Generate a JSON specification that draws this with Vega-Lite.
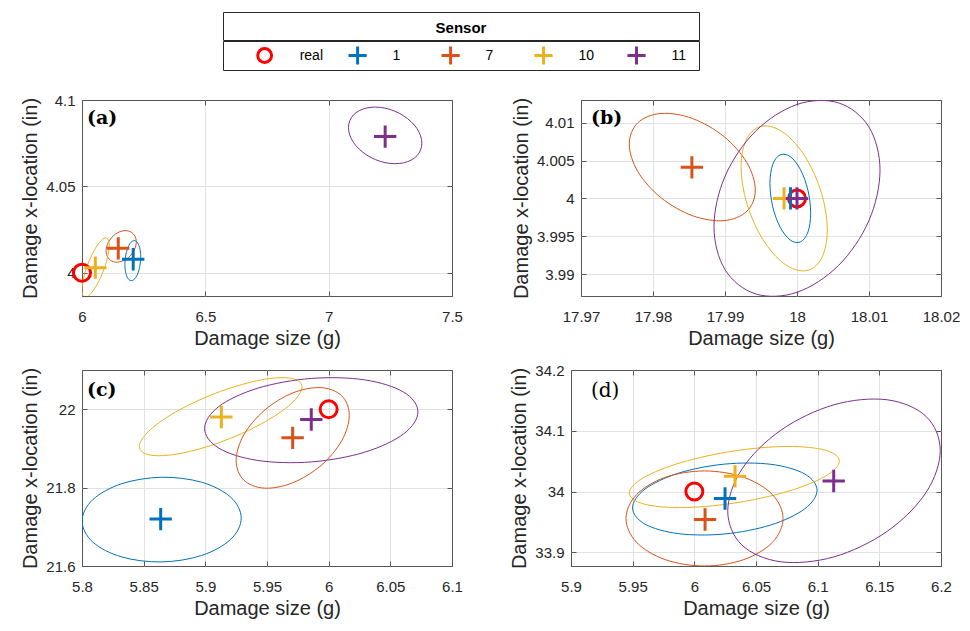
{
"$schema": "https://vega.github.io/schema/vega-lite/v6.json",
"background": "white",
"padding": {"left": 20, "top": 11, "right": 5, "bottom": 5},
"datasets": {
"leg": [{"sensor":"real"},{"sensor":"1"},{"sensor":"7"},{"sensor":"10"},{"sensor":"11"}],
"legtitle": [{"t":"Sensor"}],
"pts": [
{"panel":"a","sensor":"real","x":6,"y":4},
{"panel":"a","sensor":"1","x":6.2076,"y":4.0078},
{"panel":"a","sensor":"7","x":6.147,"y":4.0141},
{"panel":"a","sensor":"10","x":6.054,"y":4.0029},
{"panel":"a","sensor":"11","x":7.229,"y":4.0788},
{"panel":"b","sensor":"real","x":18,"y":4},
{"panel":"b","sensor":"1","x":17.9991,"y":4},
{"panel":"b","sensor":"7","x":17.9854,"y":4.0041},
{"panel":"b","sensor":"10","x":17.9982,"y":4},
{"panel":"b","sensor":"11","x":18,"y":4},
{"panel":"c","sensor":"real","x":6,"y":22},
{"panel":"c","sensor":"1","x":5.8638,"y":21.7197},
{"panel":"c","sensor":"7","x":5.9708,"y":21.927},
{"panel":"c","sensor":"10","x":5.913,"y":21.98},
{"panel":"c","sensor":"11","x":5.9859,"y":21.9738},
{"panel":"d","sensor":"real","x":6,"y":34},
{"panel":"d","sensor":"1","x":6.0249,"y":33.9885},
{"panel":"d","sensor":"7","x":6.0087,"y":33.954},
{"panel":"d","sensor":"10","x":6.033,"y":34.025},
{"panel":"d","sensor":"11","x":6.113,"y":34.0174}
],
"ell": [
{"panel":"a","sensor":"11","i":0,"x":7.3778,"y":4.0750},
{"panel":"a","sensor":"11","i":1,"x":7.3579,"y":4.0835},
{"panel":"a","sensor":"11","i":2,"x":7.3034,"y":4.0909},
{"panel":"a","sensor":"11","i":3,"x":7.229,"y":4.0953},
{"panel":"a","sensor":"11","i":4,"x":7.1546,"y":4.0954},
{"panel":"a","sensor":"11","i":5,"x":7.1001,"y":4.0913},
{"panel":"a","sensor":"11","i":6,"x":7.0802,"y":4.0840},
{"panel":"a","sensor":"11","i":7,"x":7.1001,"y":4.0755},
{"panel":"a","sensor":"11","i":8,"x":7.1546,"y":4.0681},
{"panel":"a","sensor":"11","i":9,"x":7.229,"y":4.0637},
{"panel":"a","sensor":"11","i":10,"x":7.3034,"y":4.0636},
{"panel":"a","sensor":"11","i":11,"x":7.3579,"y":4.0677},
{"panel":"a","sensor":"7","i":0,"x":6.2201,"y":4.0178},
{"panel":"a","sensor":"7","i":1,"x":6.2119,"y":4.0218},
{"panel":"a","sensor":"7","i":2,"x":6.1895,"y":4.0241},
{"panel":"a","sensor":"7","i":3,"x":6.1589,"y":4.0240},
{"panel":"a","sensor":"7","i":4,"x":6.1283,"y":4.0215},
{"panel":"a","sensor":"7","i":5,"x":6.1059,"y":4.0173},
{"panel":"a","sensor":"7","i":6,"x":6.0977,"y":4.0126},
{"panel":"a","sensor":"7","i":7,"x":6.1059,"y":4.0086},
{"panel":"a","sensor":"7","i":8,"x":6.1283,"y":4.0063},
{"panel":"a","sensor":"7","i":9,"x":6.1589,"y":4.0065},
{"panel":"a","sensor":"7","i":10,"x":6.1895,"y":4.0089},
{"panel":"a","sensor":"7","i":11,"x":6.2119,"y":4.0131},
{"panel":"a","sensor":"1","i":0,"x":6.238,"y":4.0091},
{"panel":"a","sensor":"1","i":1,"x":6.2337,"y":4.0145},
{"panel":"a","sensor":"1","i":2,"x":6.222,"y":4.0179},
{"panel":"a","sensor":"1","i":3,"x":6.206,"y":4.0184},
{"panel":"a","sensor":"1","i":4,"x":6.19,"y":4.0158},
{"panel":"a","sensor":"1","i":5,"x":6.1783,"y":4.0108},
{"panel":"a","sensor":"1","i":6,"x":6.174,"y":4.0048},
{"panel":"a","sensor":"1","i":7,"x":6.1783,"y":3.9994},
{"panel":"a","sensor":"1","i":8,"x":6.19,"y":3.9960},
{"panel":"a","sensor":"1","i":9,"x":6.206,"y":3.9956},
{"panel":"a","sensor":"1","i":10,"x":6.222,"y":3.9982},
{"panel":"a","sensor":"1","i":11,"x":6.2337,"y":4.0031},
{"panel":"a","sensor":"10","i":0,"x":6.1106,"y":4.0160},
{"panel":"a","sensor":"10","i":1,"x":6.1032,"y":4.0199},
{"panel":"a","sensor":"10","i":2,"x":6.0829,"y":4.0193},
{"panel":"a","sensor":"10","i":3,"x":6.0551,"y":4.0143},
{"panel":"a","sensor":"10","i":4,"x":6.0273,"y":4.0063},
{"panel":"a","sensor":"10","i":5,"x":6.0070,"y":3.9974},
{"panel":"a","sensor":"10","i":6,"x":5.9996,"y":3.9900},
{"panel":"a","sensor":"10","i":7,"x":6.0070,"y":3.9861},
{"panel":"a","sensor":"10","i":8,"x":6.0273,"y":3.9867},
{"panel":"a","sensor":"10","i":9,"x":6.0551,"y":3.9917},
{"panel":"a","sensor":"10","i":10,"x":6.0829,"y":3.9997},
{"panel":"a","sensor":"10","i":11,"x":6.1032,"y":4.0086},
{"panel":"b","sensor":"7","i":0,"x":17.99421,"y":4.0011},
{"panel":"b","sensor":"7","i":1,"x":17.99304,"y":4.00472},
{"panel":"b","sensor":"7","i":2,"x":17.98984,"y":4.00818},
{"panel":"b","sensor":"7","i":3,"x":17.98546,"y":4.01056},
{"panel":"b","sensor":"7","i":4,"x":17.98109,"y":4.01122},
{"panel":"b","sensor":"7","i":5,"x":17.97788,"y":4.00998},
{"panel":"b","sensor":"7","i":6,"x":17.97671,"y":4.00718},
{"panel":"b","sensor":"7","i":7,"x":17.97788,"y":4.00356},
{"panel":"b","sensor":"7","i":8,"x":17.98109,"y":4.0001},
{"panel":"b","sensor":"7","i":9,"x":17.98546,"y":3.99772},
{"panel":"b","sensor":"7","i":10,"x":17.98984,"y":3.99706},
{"panel":"b","sensor":"7","i":11,"x":17.99304,"y":3.9983},
{"panel":"b","sensor":"1","i":0,"x":18.0019,"y":3.99804},
{"panel":"b","sensor":"1","i":1,"x":18.00152,"y":4.00106},
{"panel":"b","sensor":"1","i":2,"x":18.00049,"y":4.00379},
{"panel":"b","sensor":"1","i":3,"x":17.99907,"y":4.00551},
{"panel":"b","sensor":"1","i":4,"x":17.99765,"y":4.00575},
{"panel":"b","sensor":"1","i":5,"x":17.99662,"y":4.00445},
{"panel":"b","sensor":"1","i":6,"x":17.99624,"y":4.00196},
{"panel":"b","sensor":"1","i":7,"x":17.99662,"y":3.99894},
{"panel":"b","sensor":"1","i":8,"x":17.99765,"y":3.99621},
{"panel":"b","sensor":"1","i":9,"x":17.99907,"y":3.99449},
{"panel":"b","sensor":"1","i":10,"x":18.00049,"y":3.99425},
{"panel":"b","sensor":"1","i":11,"x":18.00152,"y":3.99555},
{"panel":"b","sensor":"10","i":0,"x":18.00421,"y":3.99583},
{"panel":"b","sensor":"10","i":1,"x":18.0034,"y":4.00071},
{"panel":"b","sensor":"10","i":2,"x":18.00121,"y":4.0054},
{"panel":"b","sensor":"10","i":3,"x":17.99822,"y":4.00864},
{"panel":"b","sensor":"10","i":4,"x":17.99523,"y":4.00956},
{"panel":"b","sensor":"10","i":5,"x":17.99304,"y":4.00793},
{"panel":"b","sensor":"10","i":6,"x":17.99223,"y":4.00417},
{"panel":"b","sensor":"10","i":7,"x":17.99304,"y":3.99929},
{"panel":"b","sensor":"10","i":8,"x":17.99523,"y":3.9946},
{"panel":"b","sensor":"10","i":9,"x":17.99822,"y":3.99136},
{"panel":"b","sensor":"10","i":10,"x":18.00121,"y":3.99044},
{"panel":"b","sensor":"10","i":11,"x":18.0034,"y":3.99207},
{"panel":"b","sensor":"11","i":0,"x":18.01153,"y":4.00374},
{"panel":"b","sensor":"11","i":1,"x":18.00998,"y":4.00945},
{"panel":"b","sensor":"11","i":2,"x":18.00576,"y":4.01262},
{"panel":"b","sensor":"11","i":3,"x":18.0,"y":4.01241},
{"panel":"b","sensor":"11","i":4,"x":17.99424,"y":4.00887},
{"panel":"b","sensor":"11","i":5,"x":17.99002,"y":4.00296},
{"panel":"b","sensor":"11","i":6,"x":17.98847,"y":3.99626},
{"panel":"b","sensor":"11","i":7,"x":17.99002,"y":3.99056},
{"panel":"b","sensor":"11","i":8,"x":17.99424,"y":3.98738},
{"panel":"b","sensor":"11","i":9,"x":18.0,"y":3.98759},
{"panel":"b","sensor":"11","i":10,"x":18.00576,"y":3.99113},
{"panel":"b","sensor":"11","i":11,"x":18.00998,"y":3.99704},
{"panel":"c","sensor":"1","i":0,"x":5.9291,"y":21.7222},
{"panel":"c","sensor":"1","i":1,"x":5.9205,"y":21.7757},
{"panel":"c","sensor":"1","i":2,"x":5.8969,"y":21.8138},
{"panel":"c","sensor":"1","i":3,"x":5.8646,"y":21.8264},
{"panel":"c","sensor":"1","i":4,"x":5.8323,"y":21.81},
{"panel":"c","sensor":"1","i":5,"x":5.8087,"y":21.7691},
{"panel":"c","sensor":"1","i":6,"x":5.8001,"y":21.7146},
{"panel":"c","sensor":"1","i":7,"x":5.8087,"y":21.6611},
{"panel":"c","sensor":"1","i":8,"x":5.8323,"y":21.623},
{"panel":"c","sensor":"1","i":9,"x":5.8646,"y":21.6104},
{"panel":"c","sensor":"1","i":10,"x":5.8969,"y":21.6268},
{"panel":"c","sensor":"1","i":11,"x":5.9205,"y":21.6677},
{"panel":"c","sensor":"10","i":0,"x":5.9784,"y":22.0566},
{"panel":"c","sensor":"10","i":1,"x":5.9696,"y":22.0789},
{"panel":"c","sensor":"10","i":2,"x":5.9454,"y":22.0749},
{"panel":"c","sensor":"10","i":3,"x":5.9125,"y":22.0457},
{"panel":"c","sensor":"10","i":4,"x":5.8795,"y":21.9992},
{"panel":"c","sensor":"10","i":5,"x":5.8554,"y":21.9477},
{"panel":"c","sensor":"10","i":6,"x":5.8465,"y":21.9052},
{"panel":"c","sensor":"10","i":7,"x":5.8554,"y":21.8829},
{"panel":"c","sensor":"10","i":8,"x":5.8795,"y":21.8869},
{"panel":"c","sensor":"10","i":9,"x":5.9125,"y":21.9161},
{"panel":"c","sensor":"10","i":10,"x":5.9454,"y":21.9627},
{"panel":"c","sensor":"10","i":11,"x":5.9696,"y":22.0141},
{"panel":"c","sensor":"11","i":0,"x":6.0724,"y":21.9931},
{"panel":"c","sensor":"11","i":1,"x":6.0608,"y":22.0436},
{"panel":"c","sensor":"11","i":2,"x":6.0292,"y":22.0748},
{"panel":"c","sensor":"11","i":3,"x":5.9859,"y":22.0785},
{"panel":"c","sensor":"11","i":4,"x":5.9426,"y":22.0537},
{"panel":"c","sensor":"11","i":5,"x":5.911,"y":22.007},
{"panel":"c","sensor":"11","i":6,"x":5.8994,"y":21.9509},
{"panel":"c","sensor":"11","i":7,"x":5.911,"y":21.9005},
{"panel":"c","sensor":"11","i":8,"x":5.9426,"y":21.8692},
{"panel":"c","sensor":"11","i":9,"x":5.9859,"y":21.8655},
{"panel":"c","sensor":"11","i":10,"x":6.0292,"y":21.8903},
{"panel":"c","sensor":"11","i":11,"x":6.0608,"y":21.9371},
{"panel":"c","sensor":"7","i":0,"x":6.0167,"y":21.9847},
{"panel":"c","sensor":"7","i":1,"x":6.0106,"y":22.0342},
{"panel":"c","sensor":"7","i":2,"x":5.9938,"y":22.055},
{"panel":"c","sensor":"7","i":3,"x":5.9708,"y":22.0414},
{"panel":"c","sensor":"7","i":4,"x":5.9479,"y":21.9971},
{"panel":"c","sensor":"7","i":5,"x":5.9311,"y":21.934},
{"panel":"c","sensor":"7","i":6,"x":5.925,"y":21.8689},
{"panel":"c","sensor":"7","i":7,"x":5.9311,"y":21.8194},
{"panel":"c","sensor":"7","i":8,"x":5.9479,"y":21.7986},
{"panel":"c","sensor":"7","i":9,"x":5.9708,"y":21.8122},
{"panel":"c","sensor":"7","i":10,"x":5.9938,"y":21.8565},
{"panel":"c","sensor":"7","i":11,"x":6.0106,"y":21.9196},
{"panel":"d","sensor":"1","i":0,"x":6.0995,"y":34.0021},
{"panel":"d","sensor":"1","i":1,"x":6.0894,"y":34.029},
{"panel":"d","sensor":"1","i":2,"x":6.0621,"y":34.0448},
{"panel":"d","sensor":"1","i":3,"x":6.0247,"y":34.0452},
{"panel":"d","sensor":"1","i":4,"x":5.9873,"y":34.0303},
{"panel":"d","sensor":"1","i":5,"x":5.96,"y":34.004},
{"panel":"d","sensor":"1","i":6,"x":5.9499,"y":33.9733},
{"panel":"d","sensor":"1","i":7,"x":5.96,"y":33.9464},
{"panel":"d","sensor":"1","i":8,"x":5.9873,"y":33.9307},
{"panel":"d","sensor":"1","i":9,"x":6.0247,"y":33.9302},
{"panel":"d","sensor":"1","i":10,"x":6.0621,"y":33.9451},
{"panel":"d","sensor":"1","i":11,"x":6.0894,"y":33.9714},
{"panel":"d","sensor":"10","i":0,"x":6.1176,"y":34.0501},
{"panel":"d","sensor":"10","i":1,"x":6.1061,"y":34.0681},
{"panel":"d","sensor":"10","i":2,"x":6.075,"y":34.0742},
{"panel":"d","sensor":"10","i":3,"x":6.0324,"y":34.0669},
{"panel":"d","sensor":"10","i":4,"x":5.9898,"y":34.048},
{"panel":"d","sensor":"10","i":5,"x":5.9587,"y":34.0227},
{"panel":"d","sensor":"10","i":6,"x":5.9473,"y":33.9977},
{"panel":"d","sensor":"10","i":7,"x":5.9587,"y":33.9797},
{"panel":"d","sensor":"10","i":8,"x":5.9898,"y":33.9736},
{"panel":"d","sensor":"10","i":9,"x":6.0324,"y":33.981},
{"panel":"d","sensor":"10","i":10,"x":6.075,"y":33.9998},
{"panel":"d","sensor":"10","i":11,"x":6.1061,"y":34.0251},
{"panel":"d","sensor":"7","i":0,"x":6.0719,"y":33.9557},
{"panel":"d","sensor":"7","i":1,"x":6.0634,"y":33.9948},
{"panel":"d","sensor":"7","i":2,"x":6.0401,"y":34.0234},
{"panel":"d","sensor":"7","i":3,"x":6.0083,"y":34.0339},
{"panel":"d","sensor":"7","i":4,"x":5.9764,"y":34.0234},
{"panel":"d","sensor":"7","i":5,"x":5.9531,"y":33.9948},
{"panel":"d","sensor":"7","i":6,"x":5.9446,"y":33.9557},
{"panel":"d","sensor":"7","i":7,"x":5.9531,"y":33.9166},
{"panel":"d","sensor":"7","i":8,"x":5.9764,"y":33.888},
{"panel":"d","sensor":"7","i":9,"x":6.0083,"y":33.8775},
{"panel":"d","sensor":"7","i":10,"x":6.0401,"y":33.888},
{"panel":"d","sensor":"7","i":11,"x":6.0634,"y":33.9166},
{"panel":"d","sensor":"11","i":0,"x":6.1994,"y":34.0677},
{"panel":"d","sensor":"11","i":1,"x":6.1879,"y":34.1236},
{"panel":"d","sensor":"11","i":2,"x":6.1563,"y":34.151},
{"panel":"d","sensor":"11","i":3,"x":6.1133,"y":34.1428},
{"panel":"d","sensor":"11","i":4,"x":6.0702,"y":34.101},
{"panel":"d","sensor":"11","i":5,"x":6.0386,"y":34.037},
{"panel":"d","sensor":"11","i":6,"x":6.0271,"y":33.9677},
{"panel":"d","sensor":"11","i":7,"x":6.0386,"y":33.9119},
{"panel":"d","sensor":"11","i":8,"x":6.0702,"y":33.8844},
{"panel":"d","sensor":"11","i":9,"x":6.1133,"y":33.8926},
{"panel":"d","sensor":"11","i":10,"x":6.1563,"y":33.9344},
{"panel":"d","sensor":"11","i":11,"x":6.1879,"y":33.9985}
]
},
"spacing": 20,
"vconcat": [
{
"spacing": 0,
"hconcat": [
{"width": 140, "height": 57, "view": {"stroke": null}, "data": {"name": "legtitle"}, "mark": {"type": "text"}, "encoding": {"text": {"value": ""}}},
{
"spacing": -3,
"vconcat": [
{"width": 476, "height": 28, "view": {"stroke": "#262626"}, "data": {"name": "legtitle"}, "mark": {"type": "text", "font": "Liberation Sans", "fontSize": 15, "fontWeight": "bold", "color": "#000000", "baseline": "middle", "align": "center", "dy": 2}, "encoding": {"text": {"field": "t", "type": "nominal"}}},
{"width": 476, "height": 29, "view": {"stroke": "#262626"}, "data": {"name": "leg"},
"layer": [
{"mark": {"type": "point", "filled": false, "strokeWidth": 3, "size": 330, "opacity": 1},
"encoding": {
"x": {"field": "sensor", "type": "nominal", "sort": null, "scale": {"type": "point", "domain": ["real","1","7","10","11"], "padding": 0.56, "align": 0.4}, "axis": null},
"color": {"field": "sensor", "type": "nominal", "scale": {"domain": ["real","1","7","10","11"], "range": ["#FF0000","#0072BD","#D95319","#EDB120","#7E2F8E"]}, "legend": null},
"shape": {"field": "sensor", "type": "nominal", "scale": {"domain": ["real","1","7","10","11"], "range": ["M0.76,0A0.76,0.76,0,1,1,-0.76,0A0.76,0.76,0,1,1,0.76,0Z","M-1,0L1,0M0,-1L0,1","M-1,0L1,0M0,-1L0,1","M-1,0L1,0M0,-1L0,1","M-1,0L1,0M0,-1L0,1"]}, "legend": null}
}},
{"mark": {"type": "text", "font": "Liberation Sans", "fontSize": 14, "color": "#000000", "align": "left", "baseline": "middle", "dx": 35},
"encoding": {
"x": {"field": "sensor", "type": "nominal", "sort": null, "scale": {"type": "point", "domain": ["real","1","7","10","11"], "padding": 0.56, "align": 0.4}, "axis": null},
"text": {"field": "sensor", "type": "nominal"}
}}
]
}
]
}
]
},
{
"spacing": 13,
"vconcat": [
{
"spacing": 47,
"hconcat": [
{
"width": 370, "height": 196,
"title": {"text": "(a)", "anchor": "start", "frame": "group", "offset": -35, "dx": 5, "font": "DejaVu Serif", "fontSize": 19, "fontWeight": "bold", "color": "#000000"},
"resolve": {"axis": {"x": "independent", "y": "independent"}},
"layer": [
{"data": {"name": "ell"}, "transform": [{"filter": "datum.panel === 'a'"}], "mark": {"type": "line", "interpolate": "cardinal-closed", "clip": true, "strokeWidth": 1},
"encoding": {
"x": {"field": "x", "type": "quantitative", "scale": {"domain": [6, 7.5], "nice": false, "zero": false}, "axis": {"orient": "bottom", "values": [6, 6.5, 7, 7.5], "title": "Damage size (g)", "format": "~g", "gridOpacity": {"condition": {"test": "datum.value <= 6 || datum.value >= 7.5", "value": 0}, "value": 1}}},
"y": {"field": "y", "type": "quantitative", "scale": {"domain": [3.9865, 4.1], "nice": false, "zero": false}, "axis": {"orient": "left", "values": [4, 4.05, 4.1], "title": "Damage x-location (in)", "format": "~g", "gridOpacity": {"condition": {"test": "datum.value >= 4.1", "value": 0}, "value": 1}}},
"stroke": {"field": "sensor", "type": "nominal", "scale": {"domain": ["real","1","7","10","11"], "range": ["#FF0000","#0072BD","#D95319","#EDB120","#7E2F8E"]}, "legend": null},
"order": {"field": "i", "type": "quantitative"}}},
{"data": {"name": "pts"}, "transform": [{"filter": "datum.panel === 'a'"}], "mark": {"type": "point", "filled": false, "strokeWidth": 3, "size": 500, "opacity": 1},
"encoding": {
"x": {"field": "x", "type": "quantitative", "scale": {"domain": [6, 7.5], "nice": false, "zero": false}, "axis": {"orient": "top", "values": [6, 6.5, 7, 7.5], "title": null, "labels": false, "grid": false}},
"y": {"field": "y", "type": "quantitative", "scale": {"domain": [3.9865, 4.1], "nice": false, "zero": false}, "axis": {"orient": "right", "values": [4, 4.05, 4.1], "title": null, "labels": false, "grid": false}},
"color": {"field": "sensor", "type": "nominal", "scale": {"domain": ["real","1","7","10","11"], "range": ["#FF0000","#0072BD","#D95319","#EDB120","#7E2F8E"]}, "legend": null},
"shape": {"field": "sensor", "type": "nominal", "scale": {"domain": ["real","1","7","10","11"], "range": ["M0.76,0A0.76,0.76,0,1,1,-0.76,0A0.76,0.76,0,1,1,0.76,0Z","M-1,0L1,0M0,-1L0,1","M-1,0L1,0M0,-1L0,1","M-1,0L1,0M0,-1L0,1","M-1,0L1,0M0,-1L0,1"]}, "legend": null}
}}
]
},
{
"width": 360, "height": 196,
"title": {"text": "(b)", "anchor": "start", "frame": "group", "offset": -31, "dx": 10, "font": "DejaVu Serif", "fontSize": 19, "fontWeight": "bold", "color": "#000000"},
"resolve": {"axis": {"x": "independent", "y": "independent"}},
"layer": [
{"data": {"name": "ell"}, "transform": [{"filter": "datum.panel === 'b'"}], "mark": {"type": "line", "interpolate": "cardinal-closed", "clip": true, "strokeWidth": 1},
"encoding": {
"x": {"field": "x", "type": "quantitative", "scale": {"domain": [17.97, 18.02], "nice": false, "zero": false}, "axis": {"orient": "bottom", "values": [17.97, 17.98, 17.99, 18, 18.01, 18.02], "title": "Damage size (g)", "format": "~g", "gridOpacity": {"condition": {"test": "datum.value <= 17.97 || datum.value >= 18.02", "value": 0}, "value": 1}}},
"y": {"field": "y", "type": "quantitative", "scale": {"domain": [3.9871, 4.013], "nice": false, "zero": false}, "axis": {"orient": "left", "values": [3.99, 3.995, 4, 4.005, 4.01], "title": "Damage x-location (in)", "format": "~g"}},
"stroke": {"field": "sensor", "type": "nominal", "scale": {"domain": ["real","1","7","10","11"], "range": ["#FF0000","#0072BD","#D95319","#EDB120","#7E2F8E"]}, "legend": null},
"order": {"field": "i", "type": "quantitative"}}},
{"data": {"name": "pts"}, "transform": [{"filter": "datum.panel === 'b'"}], "mark": {"type": "point", "filled": false, "strokeWidth": 3, "size": 500, "opacity": 1},
"encoding": {
"x": {"field": "x", "type": "quantitative", "scale": {"domain": [17.97, 18.02], "nice": false, "zero": false}, "axis": {"orient": "top", "values": [17.97, 17.98, 17.99, 18, 18.01, 18.02], "title": null, "labels": false, "grid": false}},
"y": {"field": "y", "type": "quantitative", "scale": {"domain": [3.9871, 4.013], "nice": false, "zero": false}, "axis": {"orient": "right", "values": [3.99, 3.995, 4, 4.005, 4.01], "title": null, "labels": false, "grid": false}},
"color": {"field": "sensor", "type": "nominal", "scale": {"domain": ["real","1","7","10","11"], "range": ["#FF0000","#0072BD","#D95319","#EDB120","#7E2F8E"]}, "legend": null},
"shape": {"field": "sensor", "type": "nominal", "scale": {"domain": ["real","1","7","10","11"], "range": ["M0.76,0A0.76,0.76,0,1,1,-0.76,0A0.76,0.76,0,1,1,0.76,0Z","M-1,0L1,0M0,-1L0,1","M-1,0L1,0M0,-1L0,1","M-1,0L1,0M0,-1L0,1","M-1,0L1,0M0,-1L0,1"]}, "legend": null}
}}
]
}
]
},
{
"spacing": 46,
"hconcat": [
{
"width": 370, "height": 196,
"title": {"text": "(c)", "anchor": "start", "frame": "group", "offset": -33, "dx": 5, "font": "DejaVu Serif", "fontSize": 19, "fontWeight": "bold", "color": "#000000"},
"resolve": {"axis": {"x": "independent", "y": "independent"}},
"layer": [
{"data": {"name": "ell"}, "transform": [{"filter": "datum.panel === 'c'"}], "mark": {"type": "line", "interpolate": "cardinal-closed", "clip": true, "strokeWidth": 1},
"encoding": {
"x": {"field": "x", "type": "quantitative", "scale": {"domain": [5.8, 6.1], "nice": false, "zero": false}, "axis": {"orient": "bottom", "values": [5.8, 5.85, 5.9, 5.95, 6, 6.05, 6.1], "title": "Damage size (g)", "format": "~g", "gridOpacity": {"condition": {"test": "datum.value <= 5.8 || datum.value >= 6.1", "value": 0}, "value": 1}}},
"y": {"field": "y", "type": "quantitative", "scale": {"domain": [21.6, 22.1], "nice": false, "zero": false}, "axis": {"orient": "left", "values": [21.6, 21.8, 22], "title": "Damage x-location (in)", "format": "~g", "gridOpacity": {"condition": {"test": "datum.value <= 21.6", "value": 0}, "value": 1}}},
"stroke": {"field": "sensor", "type": "nominal", "scale": {"domain": ["real","1","7","10","11"], "range": ["#FF0000","#0072BD","#D95319","#EDB120","#7E2F8E"]}, "legend": null},
"order": {"field": "i", "type": "quantitative"}}},
{"data": {"name": "pts"}, "transform": [{"filter": "datum.panel === 'c'"}], "mark": {"type": "point", "filled": false, "strokeWidth": 3, "size": 500, "opacity": 1},
"encoding": {
"x": {"field": "x", "type": "quantitative", "scale": {"domain": [5.8, 6.1], "nice": false, "zero": false}, "axis": {"orient": "top", "values": [5.8, 5.85, 5.9, 5.95, 6, 6.05, 6.1], "title": null, "labels": false, "grid": false}},
"y": {"field": "y", "type": "quantitative", "scale": {"domain": [21.6, 22.1], "nice": false, "zero": false}, "axis": {"orient": "right", "values": [21.6, 21.8, 22], "title": null, "labels": false, "grid": false}},
"color": {"field": "sensor", "type": "nominal", "scale": {"domain": ["real","1","7","10","11"], "range": ["#FF0000","#0072BD","#D95319","#EDB120","#7E2F8E"]}, "legend": null},
"shape": {"field": "sensor", "type": "nominal", "scale": {"domain": ["real","1","7","10","11"], "range": ["M0.76,0A0.76,0.76,0,1,1,-0.76,0A0.76,0.76,0,1,1,0.76,0Z","M-1,0L1,0M0,-1L0,1","M-1,0L1,0M0,-1L0,1","M-1,0L1,0M0,-1L0,1","M-1,0L1,0M0,-1L0,1"]}, "legend": null}
}}
]
},
{
"width": 370, "height": 196,
"title": {"text": "(d)", "anchor": "start", "frame": "group", "offset": -38, "dx": 20, "font": "DejaVu Serif", "fontSize": 20, "fontWeight": "normal", "color": "#000000"},
"resolve": {"axis": {"x": "independent", "y": "independent"}},
"layer": [
{"data": {"name": "ell"}, "transform": [{"filter": "datum.panel === 'd'"}], "mark": {"type": "line", "interpolate": "cardinal-closed", "clip": true, "strokeWidth": 1},
"encoding": {
"x": {"field": "x", "type": "quantitative", "scale": {"domain": [5.9, 6.2], "nice": false, "zero": false}, "axis": {"orient": "bottom", "values": [5.9, 5.95, 6, 6.05, 6.1, 6.15, 6.2], "title": "Damage size (g)", "format": "~g", "gridOpacity": {"condition": {"test": "datum.value <= 5.9 || datum.value >= 6.2", "value": 0}, "value": 1}}},
"y": {"field": "y", "type": "quantitative", "scale": {"domain": [33.8775, 34.2], "nice": false, "zero": false}, "axis": {"orient": "left", "values": [33.9, 34, 34.1, 34.2], "title": "Damage x-location (in)", "format": "~g", "gridOpacity": {"condition": {"test": "datum.value >= 34.2", "value": 0}, "value": 1}}},
"stroke": {"field": "sensor", "type": "nominal", "scale": {"domain": ["real","1","7","10","11"], "range": ["#FF0000","#0072BD","#D95319","#EDB120","#7E2F8E"]}, "legend": null},
"order": {"field": "i", "type": "quantitative"}}},
{"data": {"name": "pts"}, "transform": [{"filter": "datum.panel === 'd'"}], "mark": {"type": "point", "filled": false, "strokeWidth": 3, "size": 500, "opacity": 1},
"encoding": {
"x": {"field": "x", "type": "quantitative", "scale": {"domain": [5.9, 6.2], "nice": false, "zero": false}, "axis": {"orient": "top", "values": [5.9, 5.95, 6, 6.05, 6.1, 6.15, 6.2], "title": null, "labels": false, "grid": false}},
"y": {"field": "y", "type": "quantitative", "scale": {"domain": [33.8775, 34.2], "nice": false, "zero": false}, "axis": {"orient": "right", "values": [33.9, 34, 34.1, 34.2], "title": null, "labels": false, "grid": false}},
"color": {"field": "sensor", "type": "nominal", "scale": {"domain": ["real","1","7","10","11"], "range": ["#FF0000","#0072BD","#D95319","#EDB120","#7E2F8E"]}, "legend": null},
"shape": {"field": "sensor", "type": "nominal", "scale": {"domain": ["real","1","7","10","11"], "range": ["M0.76,0A0.76,0.76,0,1,1,-0.76,0A0.76,0.76,0,1,1,0.76,0Z","M-1,0L1,0M0,-1L0,1","M-1,0L1,0M0,-1L0,1","M-1,0L1,0M0,-1L0,1","M-1,0L1,0M0,-1L0,1"]}, "legend": null}
}}
]
}
]
}
]
}
],
"config": {
"font": "Liberation Sans",
"view": {"stroke": "#555555", "strokeWidth": 1},
"axis": {"grid": true, "gridColor": "#e2e2e2", "gridWidth": 1, "domain": false, "ticks": true, "tickColor": "#555555", "tickSize": -5, "labelFont": "Liberation Sans", "labelFontSize": 15, "labelColor": "#262626", "labelFlush": false, "labelOverlap": false, "titleFont": "Liberation Sans", "titleFontSize": 20, "titleFontWeight": "normal", "titleColor": "#262626"},
"axisX": {"labelPadding": 18, "titlePadding": 4},
"axisY": {"labelPadding": 12, "titlePadding": 5}
}
}
